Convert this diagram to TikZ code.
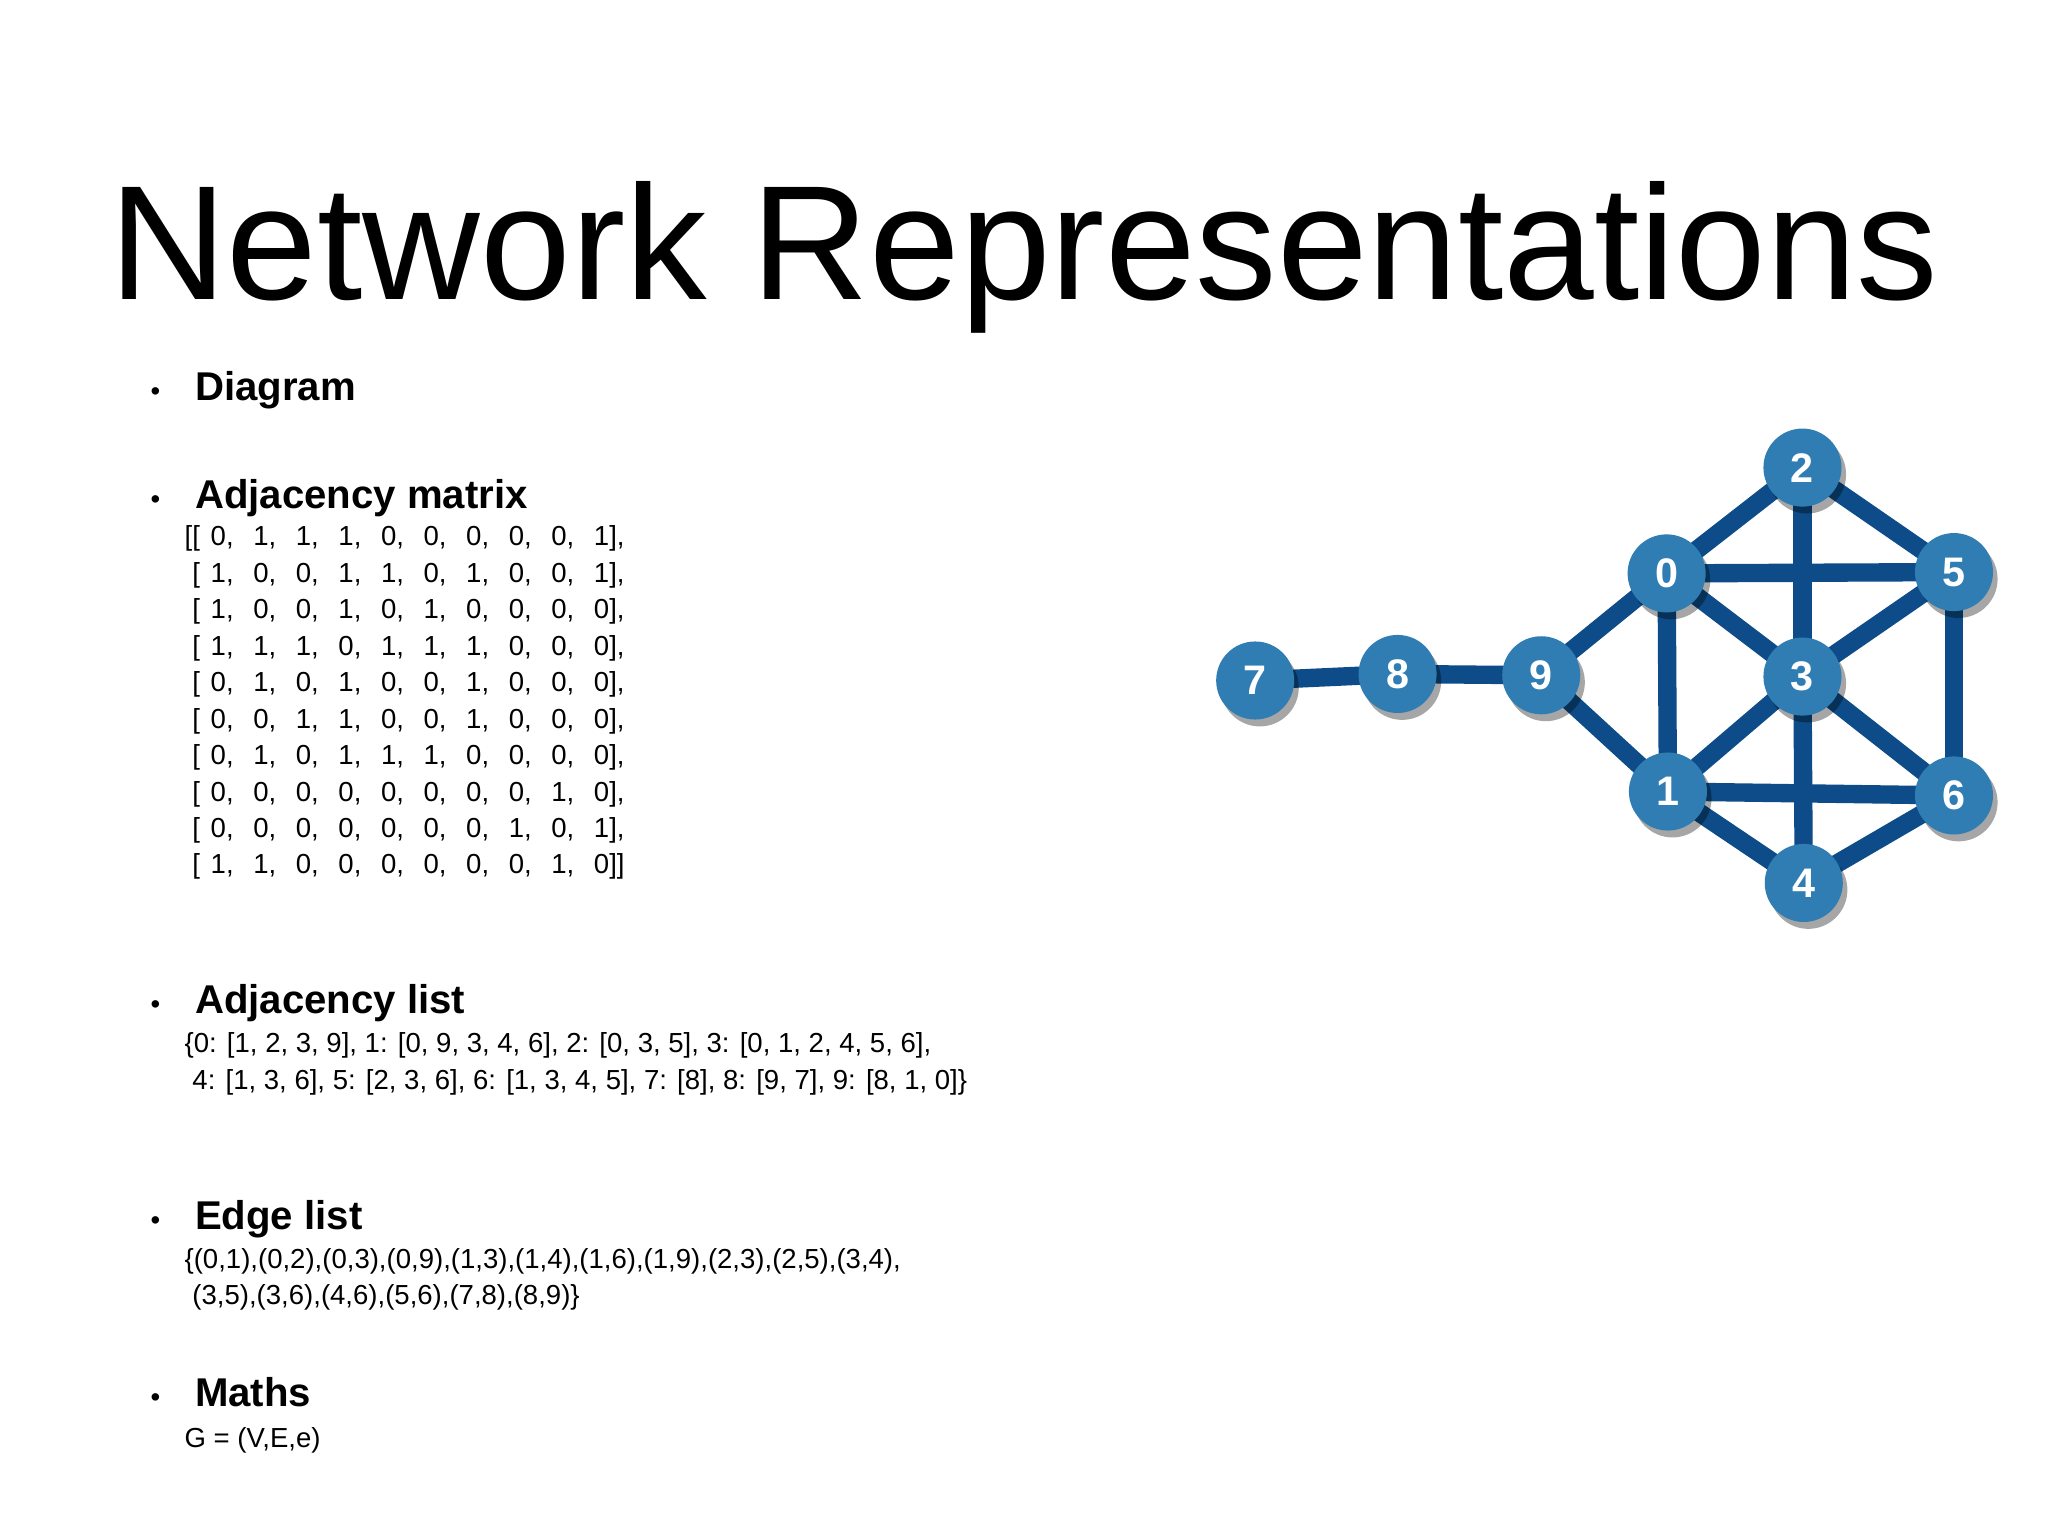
\documentclass[tikz,border=0pt]{standalone}
\usepackage{fontspec}
\setmainfont{Liberation Sans}
\usetikzlibrary{shadows}
\definecolor{nodeblue}{HTML}{2F7DB3}
\definecolor{edgeblue}{HTML}{0D4C88}
\begin{document}
\begin{tikzpicture}[x=0.02cm,y=-0.02cm,
  vtx/.style={circle,fill=nodeblue,minimum size=60*0.567pt,inner sep=0pt,text=white,font=\fontsize{18}{20}\selectfont\bfseries,
    drop shadow={shadow xshift=2pt,shadow yshift=-3pt,opacity=0.35,fill=black}},
  edg/.style={draw=edgeblue,line width=8pt},
  head/.style={anchor=base west,inner sep=0pt,font=\fontsize{17.5}{20}\selectfont\bfseries},
  bul/.style={anchor=base,inner sep=0pt,font=\fontsize{12}{14}\selectfont},
  body/.style={anchor=base west,inner sep=0pt,font=\fontsize{12}{14}\selectfont}]
\useasboundingbox (0,0) rectangle (1568,1176);
\fill[white] (0,0) rectangle (1568,1176);
\node[anchor=base,inner sep=0pt,font=\fontsize{71}{80}\selectfont] (title) at (784,229) {Network Representations};
% headings
\foreach \n/\y/\t in {h1/307/Diagram,h2/389/Adjacency matrix,h3/776/Adjacency list,h4/941/Edge list,h5/1077/Maths}{
  \node[bul] (b\n) at (119,\y) {•};
  \node[head] (\n) at (149,\y) {\t};
}
% matrix
\foreach \row [count=\r from 0] in {
 {0,1,1,1,0,0,0,0,0,1},{1,0,0,1,1,0,1,0,0,1},{1,0,0,1,0,1,0,0,0,0},{1,1,1,0,1,1,1,0,0,0},
 {0,1,0,1,0,0,1,0,0,0},{0,0,1,1,0,0,1,0,0,0},{0,1,0,1,1,1,0,0,0,0},{0,0,0,0,0,0,0,0,1,0},
 {0,0,0,0,0,0,0,1,0,1},{1,1,0,0,0,0,0,0,1,0}}{
  \pgfmathsetmacro{\yy}{418+\r*27.9}
  \ifnum\r=0 \node[body] (m\r) at (141,\yy) {[[}; \else \node[body] (m\r) at (147,\yy) {[}; \fi
  \foreach \v [count=\c from 0] in \row {
    \ifnum\c<9 \node[body] (m\r c\c) at (161+\c*32.6,\yy) {\v,};
    \else \ifnum\r=9 \node[body] (m\r c\c) at (161+\c*32.6,\yy) {\v]]};
      \else \node[body] (m\r c\c) at (161+\c*32.6,\yy) {\v],};\fi\fi
  }
}
\node[body] (al1) at (141,806) {\{0: [1, 2, 3, 9], 1: [0, 9, 3, 4, 6], 2: [0, 3, 5], 3: [0, 1, 2, 4, 5, 6],};
\node[body] (al2) at (147,834) {4: [1, 3, 6], 5: [2, 3, 6], 6: [1, 3, 4, 5], 7: [8], 8: [9, 7], 9: [8, 1, 0]\}};
\node[body] (el1) at (141,971) {\{(0,1),(0,2),(0,3),(0,9),(1,3),(1,4),(1,6),(1,9),(2,3),(2,5),(3,4),};
\node[body] (el2) at (147,999) {(3,5),(3,6),(4,6),(5,6),(7,8),(8,9)\}};
\node[body] (mt) at (141,1108) {G = (V,E,e)};
% graph
\coordinate (p7) at (961,521); \coordinate (p8) at (1070,516); \coordinate (p9) at (1180,517);
\coordinate (p0) at (1276,439); \coordinate (p2) at (1380,358); \coordinate (p5) at (1496,438);
\coordinate (p3) at (1380,518); \coordinate (p1) at (1277,606); \coordinate (p6) at (1496,609);
\coordinate (p4) at (1381,676);
\foreach \a/\b in {0/2,0/5,0/3,0/1,0/9,2/5,2/3,5/3,5/6,3/1,3/6,3/4,1/6,1/4,4/6,9/1,9/8,8/7}
  \draw[edg] (p\a) -- (p\b);
\foreach \k in {0,...,9} \node[vtx] (v\k) at (p\k) {\k};
\end{tikzpicture}
\end{document}
